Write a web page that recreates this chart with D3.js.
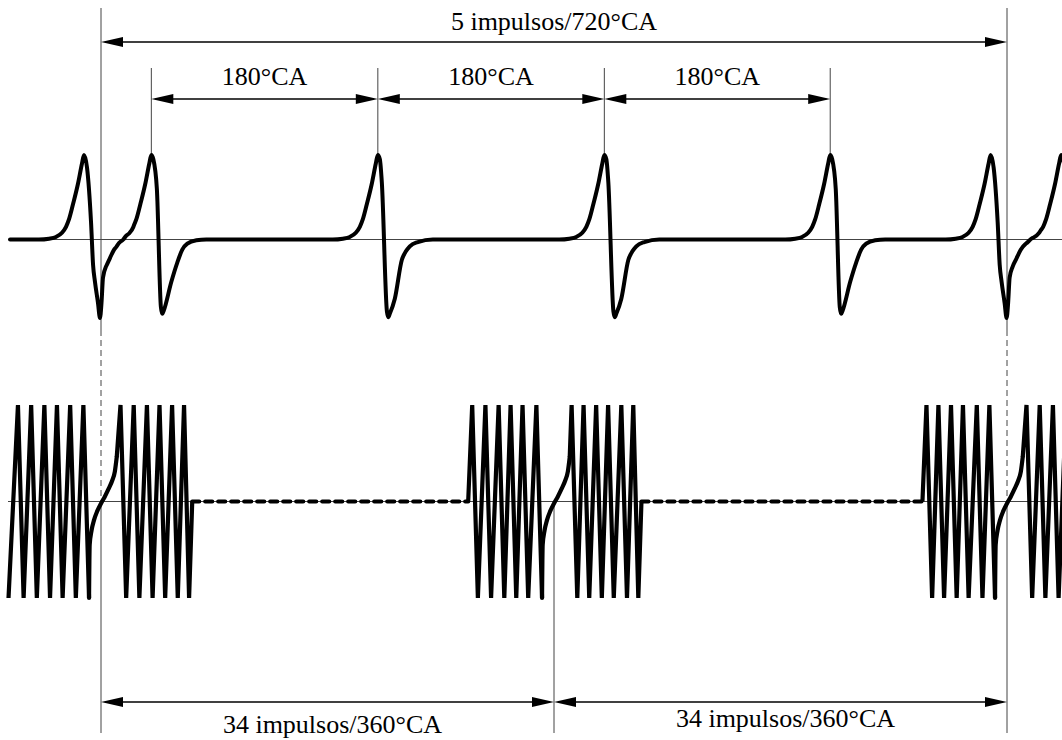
<!DOCTYPE html>
<html>
<head>
<meta charset="utf-8">
<script src="https://cdn.jsdelivr.net/npm/d3@7"></script>
<style>
  html, body { margin: 0; padding: 0; background: #fff; }
  svg { display: block; }
</style>
</head>
<body>
<svg id="chart" width="1062" height="740"></svg>
<script>
// ---------------- DATA (crank angle in °CA) ----------------
const gapCenters = [0, 360, 720];                 // missing-tooth gaps of the 36-2 wheel
const camPulseAngles = [-13.5, 40, 220, 400, 579.5, 707, 763];
const camPulseTypes  = ["sync", "B", "A", "A", "B", "sync", "B"];

// pulse template: rising flank (deg offset, relative amplitude)
const camRise = [[-35.8, 0], [-27.8, 0.01], [-22.3, 0.03], [-17.5, 0.08], [-14.3, 0.15],
                 [-11.9, 0.24], [-8.7, 0.42], [-4.8, 0.66], [-1.6, 0.9], [0, 1]];
// falling flanks of the three pulse types
const camFallA = [[1.6, 0.95], [3.2, 0.67], [7.2, -0.85], [8.3, -0.92], [9.5, -0.88],
                  [13.5, -0.7], [19.1, -0.24], [22.3, -0.14], [25.4, -0.08], [31.8, -0.03], [43.7, 0]];
const camFallB = [[1.6, 0.95], [4.4, 0.6], [7.6, -0.8], [8.7, -0.88], [9.9, -0.84],
                  [15.9, -0.5], [20.7, -0.27], [24.6, -0.12], [28.6, -0.05], [35.8, -0.01], [43.7, 0]];
const camFallSync = [[2.4, 0.85], [5.6, 0.2], [7.2, -0.3], [8.7, -0.5], [11.1, -0.75],
                     [12.7, -0.93], [13.9, -0.75], [15.1, -0.45], [17.5, -0.32], [20.7, -0.22],
                     [23.8, -0.13], [27.8, -0.06], [33.4, -0.01], [39.7, 0]];
const camStart = -72.3, camEnd = 770;

// crank wheel teeth: peak angles before and after each gap
const teethBeforeGap = [[-66, -55.5, -45, -35, -24.5, -14],
                        [295, 305.5, 316, 325.5, 335, 346],
                        [656, 665.5, 675.5, 685, 696, 706]];
const teethAfterGap  = [[15.5, 26, 36.5, 46.5, 56.5, 66],
                        [374, 383.5, 393.5, 403, 413.5, 423],
                        [735.5, 746, 756.5, 767]];
const toothFall = 4.5;          // peak -> trough (deg)
const crankStart = -73.5;       // trace begins in a trough
// zero-crossing across the gap (deg offset from gap centre, amplitude)
const gapCurve = [[-9, -0.45], [-7.5, -0.3], [-5.5, -0.19], [-3, -0.1], [0, -0.02],
                  [3, 0.05], [6, 0.13], [9, 0.22], [11, 0.31], [12.5, 0.46]];

// dimension annotations
const spanTop = { from: 0, to: 720, label: "5 impulsos/720°CA" };
const spansMid = [[40, 220], [220, 400], [400, 579.5]];
const spanMidLabel = "180°CA";
const spansBottom = [[0, 360], [360, 720]];
const spanBottomLabel = "34 impulsos/360°CA";

// ---------------- DRAWING ----------------
const svg = d3.select("#chart");
const W = 1062, H = 740;
svg.append("rect").attr("width", W).attr("height", H).attr("fill", "#fff");

const x = d3.scaleLinear().domain([0, 720]).range([101, 1007]);
const yTop = d3.scaleLinear().domain([0, 1]).range([239.5, 155]);
const yBot = d3.scaleLinear().domain([-1, 1]).range([598, 405]);

const thin = "#444";
const FONT = "Liberation Serif, Times New Roman, serif";

// thin baselines
svg.append("line").attr("x1", 8).attr("x2", W).attr("y1", yTop(0)).attr("y2", yTop(0))
  .attr("stroke", thin).attr("stroke-width", 1);
svg.append("line").attr("x1", 8).attr("x2", W).attr("y1", yBot(0)).attr("y2", yBot(0))
  .attr("stroke", thin).attr("stroke-width", 1);

// reference verticals
function vline(a, y1, y2, dash) {
  const l = svg.append("line").attr("x1", x(a)).attr("x2", x(a)).attr("y1", y1).attr("y2", y2)
    .attr("stroke", thin).attr("stroke-width", 1);
  if (dash) l.attr("stroke-dasharray", dash);
}
[gapCenters[0], gapCenters[2]].forEach(a => {
  vline(a, 8, 330);
  vline(a, 330, yBot(0), "6,4");
  vline(a, yBot(0), 733);
});
vline(gapCenters[1], yBot(0), 733);
camPulseAngles.slice(1, 5).forEach(a => vline(a, 68, yTop(1)));

// arrows
function arrow(a1, a2, y) {
  const x1 = x(a1), x2 = x(a2), L = 22, hw = 5;
  svg.append("line").attr("x1", x1 + 4).attr("x2", x2 - 4).attr("y1", y).attr("y2", y)
    .attr("stroke", "#000").attr("stroke-width", 1.6);
  svg.append("path").attr("d", `M${x1},${y}L${x1 + L},${y - hw}L${x1 + L},${y + hw}Z`).attr("fill", "#000");
  svg.append("path").attr("d", `M${x2},${y}L${x2 - L},${y - hw}L${x2 - L},${y + hw}Z`).attr("fill", "#000");
}
function label(t, cx, y) {
  svg.append("text").attr("x", cx).attr("y", y).attr("text-anchor", "middle")
    .attr("font-family", FONT).attr("font-size", 26).attr("fill", "#000").text(t);
}
arrow(spanTop.from, spanTop.to, 42);
label(spanTop.label, x((spanTop.from + spanTop.to) / 2), 30);
spansMid.forEach(([a, b]) => { arrow(a, b, 99); label(spanMidLabel, x((a + b) / 2), 85); });
spansBottom.forEach(([a, b], i) => {
  arrow(a, b, 702);
  label(spanBottomLabel, x((a + b) / 2) + 5, i === 0 ? 733 : 727);
});

// ---- camshaft sensor signal (top) ----
const fallByType = { A: camFallA, B: camFallB, sync: camFallSync };
const pulses = camPulseAngles.map((c, i) =>
  camRise.concat(fallByType[camPulseTypes[i]]).map(([d, v]) => [c + d, v]));
function evalPulse(pts, a) {
  if (a <= pts[0][0] || a >= pts[pts.length - 1][0]) return 0;
  for (let k = 1; k < pts.length; k++) {
    if (a <= pts[k][0]) {
      const [a0, v0] = pts[k - 1], [a1, v1] = pts[k];
      return v0 + (v1 - v0) * (a - a0) / (a1 - a0);
    }
  }
  return 0;
}
let keyAngles = [camStart, camEnd];
pulses.forEach(p => p.forEach(([a]) => keyAngles.push(a)));
keyAngles = Array.from(new Set(keyAngles.map(a => +a.toFixed(3)))).sort((a, b) => a - b)
  .filter(a => a >= camStart && a <= camEnd);
const camTrace = keyAngles.map(a => [a, d3.sum(pulses, p => evalPulse(p, a))]);

svg.append("path").datum(camTrace)
  .attr("d", d3.line().x(d => x(d[0])).y(d => yTop(d[1])).curve(d3.curveMonotoneX))
  .attr("fill", "none").attr("stroke", "#000").attr("stroke-width", 4)
  .attr("stroke-linejoin", "round").attr("stroke-linecap", "round");

// ---- crankshaft sensor signal (bottom) ----
const lin = d3.line().x(d => x(d[0])).y(d => yBot(d[1]));
const smooth = d3.line().x(d => x(d[0])).y(d => yBot(d[1])).curve(d3.curveMonotoneX);
const waveStyle = p => p.attr("fill", "none").attr("stroke", "#000").attr("stroke-width", 4.2);

gapCenters.forEach((g, i) => {
  const pre = teethBeforeGap[i], post = teethAfterGap[i];
  const a = [];
  a.push(i === 0 ? [crankStart, -1] : [pre[0] - 3.2, 0]);
  pre.forEach(p => { a.push([p, 1]); a.push([p + toothFall, -1]); });
  svg.append("path").datum(a).attr("d", lin).call(waveStyle);

  const s = [a[a.length - 1]].concat(gapCurve.map(([d, v]) => [g + d, v]));
  svg.append("path").datum(s).attr("d", smooth).call(waveStyle).attr("stroke-linecap", "round");

  const b = [s[s.length - 1]];
  post.forEach((p, j) => { if (j > 0) b.push([post[j - 1] + toothFall, -1]); b.push([p, 1]); });
  const last = post[post.length - 1];
  if (i < gapCenters.length - 1) {
    b.push([last + toothFall - 0.5, -1]);
    b.push([last + 6.5, 0]);
    const nextStart = teethBeforeGap[i + 1][0] - 3.2;
    svg.append("path").datum([[last + 6.5, 0], [nextStart, 0]]).attr("d", lin)
      .call(waveStyle).attr("stroke-dasharray", "7,6").attr("stroke-linecap", "round");
  } else {
    b.push([last + toothFall, -1]);
  }
  svg.append("path").datum(b).attr("d", lin).call(waveStyle);
});
</script>
</body>
</html>
